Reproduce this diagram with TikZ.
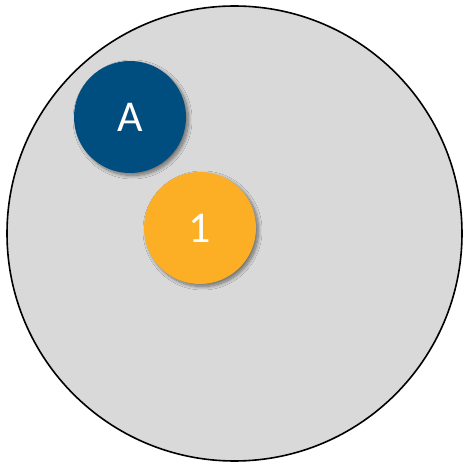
\documentclass[tikz,border=0pt]{standalone}
\usepackage{fontspec}
\setmainfont{Carlito}
\usepackage{tikz}
\usetikzlibrary{positioning,shadows.blur}
\definecolor{zone}{HTML}{D9D9D9}
\definecolor{navy}{HTML}{004D80}
\definecolor{amber}{HTML}{FCAF24}
\tikzset{
  field/.style  = {circle, draw=black, fill=zone, line width=1.6pt, minimum size=455pt, inner sep=0pt},
  token/.style  = {circle, fill=#1, minimum size=112pt, inner sep=0pt, text=white,
                   font=\fontsize{44}{50}\selectfont,
                   blur shadow={shadow xshift=2.5pt, shadow yshift=-2.5pt, shadow blur steps=12,
                                shadow blur radius=3.5pt, shadow opacity=50}},
}

\begin{document}
\begin{tikzpicture}[x=1pt, y=1pt]
  \useasboundingbox (0,0) rectangle (464,464);

  % the gray field
  \node[field] (ring) at (234.5,230.5) {};

  % the two tokens on it
  \node[token=navy]  (tokA) at (130,347) {A};
  \node[token=amber] (tok1) at (200,236) {1};
\end{tikzpicture}
\end{document}
